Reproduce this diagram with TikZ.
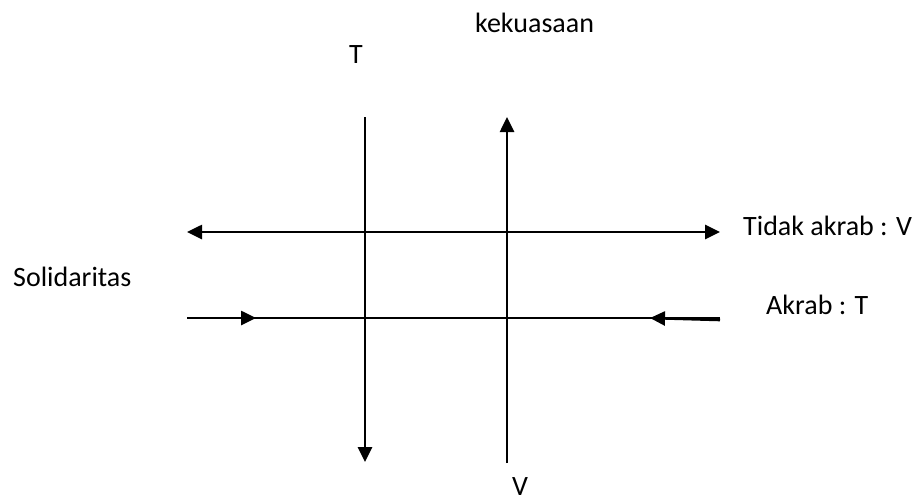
\documentclass[tikz,border=0pt]{standalone}
\usepackage{fontspec}
\setmainfont{Carlito}
\usetikzlibrary{arrows.meta}

\begin{document}
\begin{tikzpicture}[x=1pt, y=-1pt,
  lbl/.style={anchor=base west, inner sep=0pt, font=\fontsize{28}{34}\selectfont},
  thickline/.style={line width=2.6pt},
  tip/.style={-{Triangle[length=15pt,width=14pt]}},
  tips/.style={{Triangle[length=15pt,width=14pt]}-{Triangle[length=15pt,width=14pt]}}]
  \useasboundingbox (0,0) rectangle (920,501);

  \node[lbl] (kuasa) at (475,32) {kekuasaan};
  \node[lbl] (ttop) at (349,63) {T};
  \node[lbl] (tidak) at (743,235) {Tidak akrab : V};
  \node[lbl] (solid) at (13,286) {Solidaritas};
  \node[lbl] (akrab) at (766,314) {Akrab : T};
  \node[lbl] (vbot) at (512,495) {V};

  \coordinate (a1) at (187,232);
  \coordinate (a2) at (720,232);
  \coordinate (b1) at (187,318);
  \coordinate (b2) at (720,318);
  \coordinate (b3) at (256,318);
  \coordinate (b4) at (720,320);
  \coordinate (b5) at (650,318);
  \coordinate (c1) at (365,117);
  \coordinate (c2) at (365,462);
  \coordinate (d1) at (507,463);
  \coordinate (d2) at (507,117);

  \draw[thickline, tips] (a1) -- (a2);
  \draw[line width=1.2pt] (b1) -- (b2);
  \draw[thickline, tip] (b1) -- (b3);
  \draw[thickline, tip] (b4) -- (b5);
  \draw[thickline, tip] (c1) -- (c2);
  \draw[thickline, tip] (d1) -- (d2);
\end{tikzpicture}
\end{document}
